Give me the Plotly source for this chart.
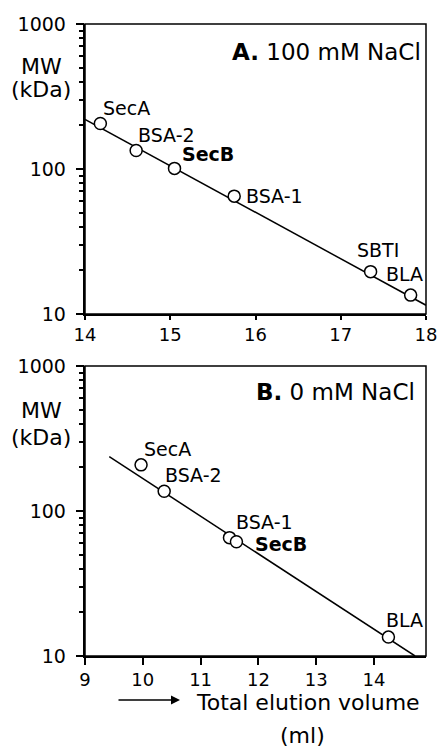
import math
import plotly.graph_objects as go

# ---------------- data ----------------
# Panel A: 100 mM NaCl
a_names = ["SecA", "BSA-2", "<b>SecB</b>", "BSA-1", "SBTI", "BLA"]
a_vol = [14.18, 14.60, 15.05, 15.75, 17.35, 17.82]
a_mw = [206, 134, 101, 65, 19.6, 13.5]
a_fit_vol = [14.0, 18.0]
a_fit_mw = [220, 11.5]

# Panel B: 0 mM NaCl
b_names = ["SecA", "BSA-2", "BSA-1", "<b>SecB</b>", "BLA"]
b_vol = [9.97, 10.37, 11.50, 11.62, 14.25]
b_mw = [208, 137, 65.5, 61.4, 13.5]
b_fit_vol = [9.42, 14.71]
b_fit_mw = [237, 10]

y_ticks = [10, 100, 1000]
y_minor = [20, 30, 40, 50, 60, 70, 80, 90, 200, 300, 400, 500, 600, 700, 800, 900]
a_xticks = [14, 15, 16, 17, 18]
b_xticks = [9, 10, 11, 12, 13, 14]

FONT = "DejaVu Sans"

fig = go.Figure()

# invisible carriers for the overlay axes that draw the longer major ticks
fig.add_trace(go.Scatter(x=a_fit_vol, y=a_fit_mw, mode="lines", opacity=0,
                         line=dict(color="rgba(0,0,0,0)", width=0),
                         xaxis="x", yaxis="y3", showlegend=False, hoverinfo="skip"))
fig.add_trace(go.Scatter(x=b_fit_vol, y=b_fit_mw, mode="lines", opacity=0,
                         line=dict(color="rgba(0,0,0,0)", width=0),
                         xaxis="x2", yaxis="y4", showlegend=False, hoverinfo="skip"))

# fit lines
fig.add_trace(go.Scatter(x=a_fit_vol, y=a_fit_mw, mode="lines",
                         line=dict(color="black", width=1.5),
                         xaxis="x", yaxis="y", showlegend=False, hoverinfo="skip"))
fig.add_trace(go.Scatter(x=b_fit_vol, y=b_fit_mw, mode="lines",
                         line=dict(color="black", width=1.5),
                         xaxis="x2", yaxis="y2", showlegend=False, hoverinfo="skip"))
# points
mk = dict(symbol="circle", size=12, color="white", line=dict(color="black", width=1.5))
fig.add_trace(go.Scatter(x=a_vol, y=a_mw, mode="markers", marker=mk,
                         xaxis="x", yaxis="y", showlegend=False))
fig.add_trace(go.Scatter(x=b_vol, y=b_mw, mode="markers", marker=mk,
                         xaxis="x2", yaxis="y2", showlegend=False))

axis_common = dict(showline=True, linecolor="black", linewidth=1.5,
                   ticks="outside", tickcolor="black", tickwidth=1.5,
                   showgrid=False, zeroline=False,
                   tickfont=dict(family=FONT, size=18, color="black"))

# all y ticks (major + minor) on the main axis; labels only on the decades
y_all = y_ticks + y_minor
y_text = [str(v) + "\u2002" for v in y_ticks] + [""] * len(y_minor)
yaxis_common = dict(axis_common, type="log", range=[1, 3], tickmode="array",
                    tickvals=y_all, ticktext=y_text, ticklen=4,
                    tickfont=dict(family=FONT, size=19, color="black"))

major_axis = dict(type="log", range=[1, 3], tickmode="array", tickvals=y_ticks,
                  showticklabels=False, ticks="outside", ticklen=8, tickwidth=1.5,
                  tickcolor="black", showline=False, showgrid=False, zeroline=False,
                  side="left")

fig.update_layout(
    template="none",
    width=440, height=750,
    margin=dict(l=85, r=14, t=24, b=94),
    paper_bgcolor="white", plot_bgcolor="white",
    font=dict(family=FONT, color="black"),
    showlegend=False,
    xaxis=dict(axis_common, domain=[0, 1], anchor="y", range=[14, 18],
               tickmode="array", tickvals=a_xticks, ticklen=4),
    yaxis=dict(yaxis_common, domain=[0.5411, 1.0], anchor="x"),
    xaxis2=dict(axis_common, domain=[0, 1], anchor="y2", range=[9, 14.9],
                tickmode="array", tickvals=b_xticks, ticklen=7),
    yaxis2=dict(yaxis_common, domain=[0, 0.4589], anchor="x2"),
    yaxis3=dict(major_axis, overlaying="y", anchor="x"),
    yaxis4=dict(major_axis, overlaying="y2", anchor="x2"),
    shapes=[
        dict(type="rect", xref="x domain", yref="y domain", x0=0, x1=1, y0=0, y1=1,
             line=dict(color="black", width=1.5), layer="above"),
        dict(type="rect", xref="x2 domain", yref="y2 domain", x0=0, x1=1, y0=0, y1=1,
             line=dict(color="black", width=1.5), layer="above"),
    ],
)

ann = []
a_off = [(26, 16, "center"), (30, 16, "center"), (33, 14, "center"),
         (10, 0, "left"), (7, 22, "center"), (-6, 21, "center")]
for n, x, y, (dx, dy, xa) in zip(a_names, a_vol, a_mw, a_off):
    ann.append(dict(text=n, x=x, y=math.log10(y), xref="x", yref="y", xshift=dx, yshift=dy,
                    xanchor=xa, yanchor="middle", showarrow=False,
                    font=dict(family=FONT, size=19, color="black")))
b_off = [(26, 16, "center"), (29, 16, "center"), (35, 16, "center"),
         (17, -2, "left"), (16, 17, "center")]
for n, x, y, (dx, dy, xa) in zip(b_names, b_vol, b_mw, b_off):
    ann.append(dict(text=n, x=x, y=math.log10(y), xref="x2", yref="y2", xshift=dx, yshift=dy,
                    xanchor=xa, yanchor="middle", showarrow=False,
                    font=dict(family=FONT, size=19, color="black")))

ann.append(dict(text="<b>A.</b> 100 mM NaCl", x=0.992, y=0.9557, xref="paper", yref="paper",
                xanchor="right", yanchor="middle", showarrow=False,
                font=dict(family=FONT, size=23, color="black")))
ann.append(dict(text="<b>B.</b> 0 mM NaCl", x=0.974, y=0.4177, xref="paper", yref="paper",
                xanchor="right", yanchor="middle", showarrow=False,
                font=dict(family=FONT, size=23, color="black")))
for txt, yy in [("MW", 0.932), ("(kDa)", 0.897), ("MW", 0.3877), ("(kDa)", 0.3465)]:
    ann.append(dict(text=txt, x=-0.129, y=yy, xref="paper", yref="paper",
                    xanchor="center", yanchor="middle", showarrow=False,
                    font=dict(family=FONT, size=22, color="black")))
ann.append(dict(text="Total elution volume", x=0.655, y=-0.0728, xref="paper", yref="paper",
                xanchor="center", yanchor="middle", showarrow=False,
                font=dict(family=FONT, size=22, color="black")))
ann.append(dict(text="(ml)", x=0.639, y=-0.125, xref="paper", yref="paper",
                xanchor="center", yanchor="middle", showarrow=False,
                font=dict(family=FONT, size=22, color="black")))
ann.append(dict(text="", x=0.2786, y=-0.0696, xref="paper", yref="paper",
                ax=-63, ay=0, axref="pixel", ayref="pixel", showarrow=True,
                arrowhead=2, arrowsize=1.2, arrowwidth=1.5, arrowcolor="black"))

fig.update_layout(annotations=ann)
fig.write_html("out.html")
